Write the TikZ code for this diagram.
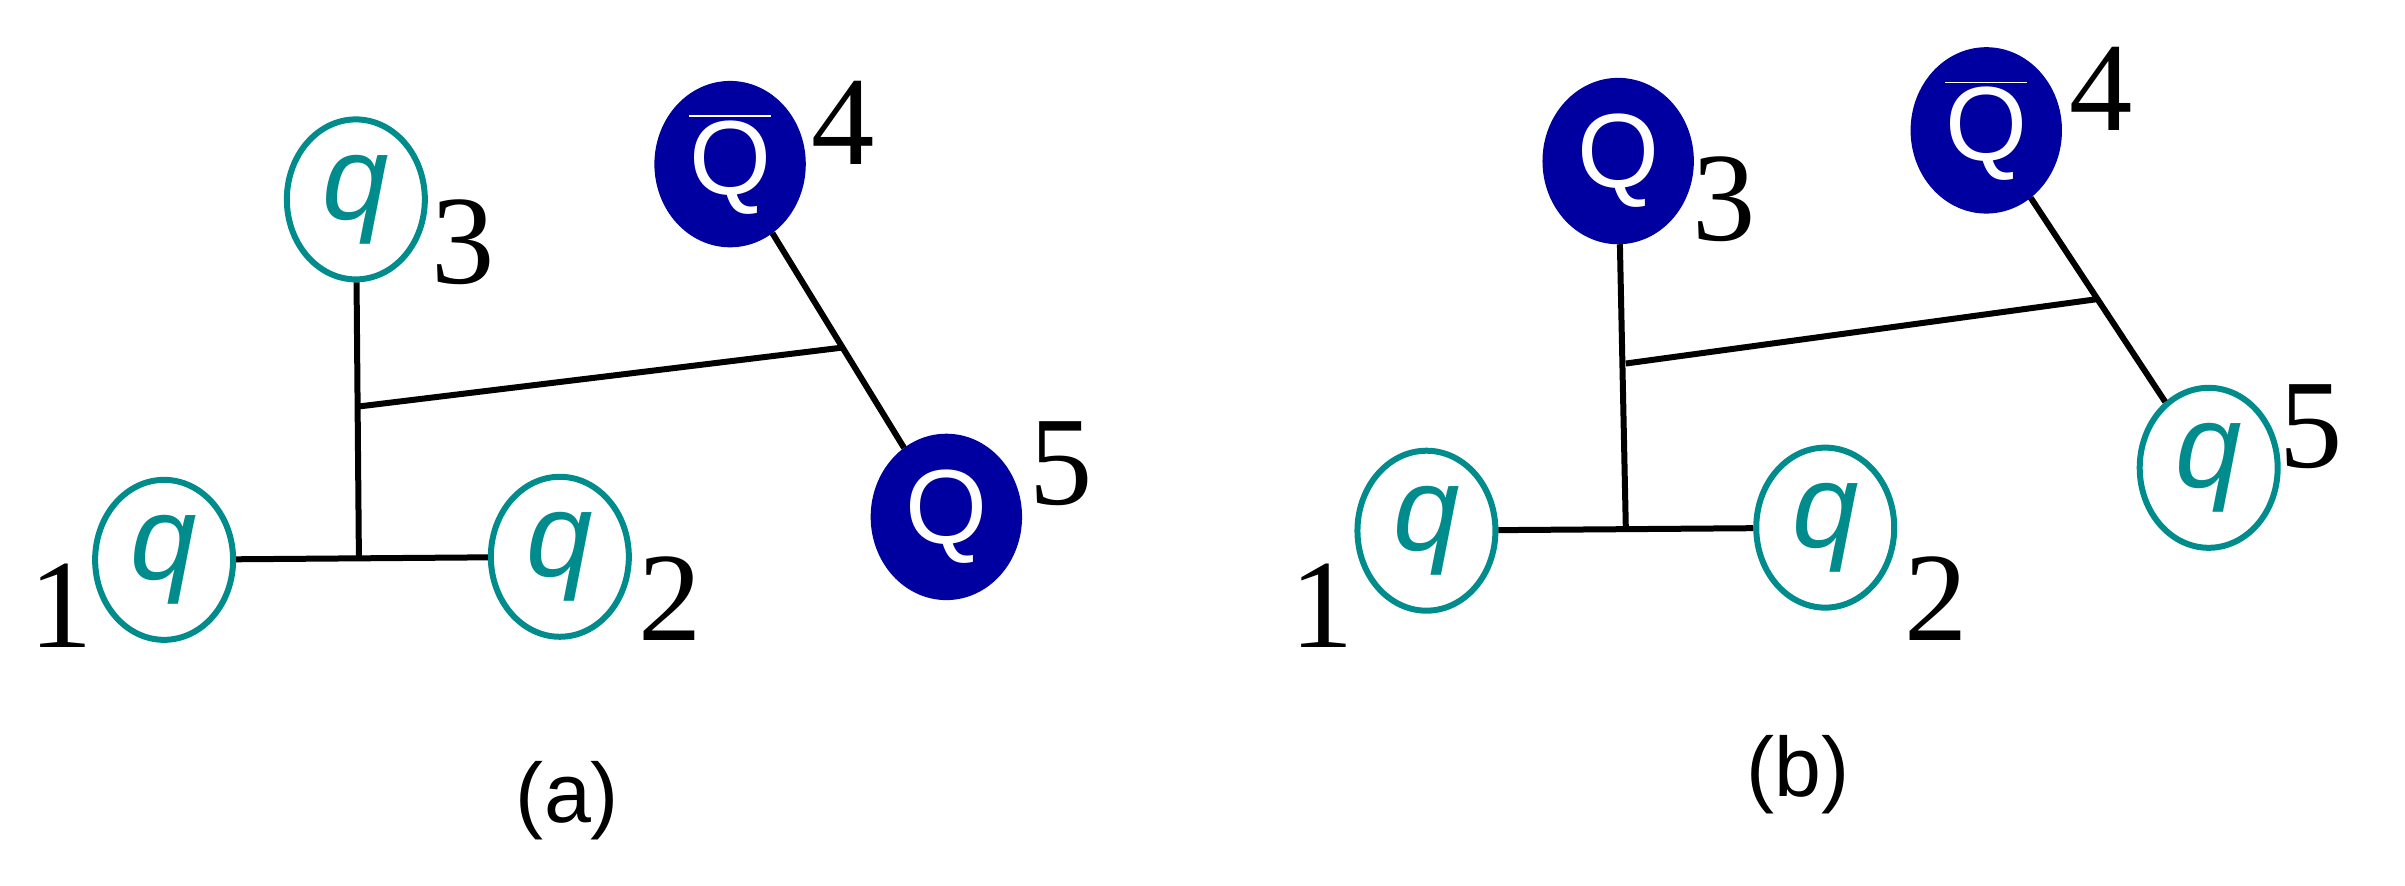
\documentclass[tikz,border=0pt]{standalone}
\usepackage{fontspec}
\newfontfamily\numfont{Liberation Serif}
\newfontfamily\qfont{Liberation Sans}
\usetikzlibrary{shapes.geometric,calc}
\definecolor{qteal}{RGB}{0,140,140}
\definecolor{qnavy}{RGB}{0,0,160}
\tikzset{
	light/.style={ellipse, draw=qteal, line width=0.6mm, minimum width=1.38cm, minimum height=1.6cm, inner sep=0pt, text=qteal, font=\qfont\itshape\fontsize{34}{34}\selectfont},
	heavy/.style={ellipse, draw=qnavy, fill=qnavy, minimum width=1.5cm, minimum height=1.65cm, inner sep=0pt, text=white, font=\qfont\fontsize{30}{30}\selectfont},
	idx/.style={font=\numfont\fontsize{36}{36}\selectfont},
	panel/.style={font=\qfont\fontsize{24}{24}\selectfont},
	link/.style={line width=0.6mm}
}
\newcommand{\qbar}{$\overline{\mbox{Q}}$}
\begin{document}
\begin{tikzpicture}[x=0.1534mm, y=-0.1534mm]
	\useasboundingbox (0,0) rectangle (1568,577);

	% panel (a)
	\node[light] (a1) at (107,365) {q};
	\node[light] (a2) at (365,363) {q};
	\node[light] (a3) at (232,130) {q};
	\node[heavy] (a4) at (476,107) {\qbar};
	\node[heavy] (a5) at (617,337) {Q};
	\node[idx] (la1) at (40,395) {1};
	\node[idx] (la2) at (437,390) {2};
	\node[idx] (la3) at (302,158) {3};
	\node[idx] (la4) at (550,80) {4};
	\node[idx] (la5) at (692,302) {5};
	\coordinate (aj1) at (234,364);
	\coordinate (aj2) at (234,265);
	\coordinate (aj3) at ($(a4)!0.52!(a5)$);
	\draw[link] (a1) -- (a2);
	\draw[link] (a3) -- (aj1);
	\draw[link] (aj2) -- (aj3);
	\draw[link] (a4) -- (a5);
	\node[panel] (capa) at (370,522) {(a)};

	% panel (b)
	\node[light] (b1) at (930,346) {q};
	\node[light] (b2) at (1190,344) {q};
	\node[heavy] (b3) at (1055,105) {Q};
	\node[heavy] (b4) at (1295,85) {\qbar};
	\node[light] (b5) at (1440,305) {q};
	\node[idx] (lb1) at (862,395) {1};
	\node[idx] (lb2) at (1262,390) {2};
	\node[idx] (lb3) at (1124,130) {3};
	\node[idx] (lb4) at (1370,58) {4};
	\node[idx] (lb5) at (1507,278) {5};
	\coordinate (bj1) at (1060,345);
	\coordinate (bj2) at (1060,237);
	\coordinate (bj3) at ($(b4)!0.5!(b5)$);
	\draw[link] (b1) -- (b2);
	\draw[link] (b3) -- (bj1);
	\draw[link] (bj2) -- (bj3);
	\draw[link] (b4) -- (b5);
	\node[panel] (capb) at (1172,505) {(b)};
\end{tikzpicture}
\end{document}
